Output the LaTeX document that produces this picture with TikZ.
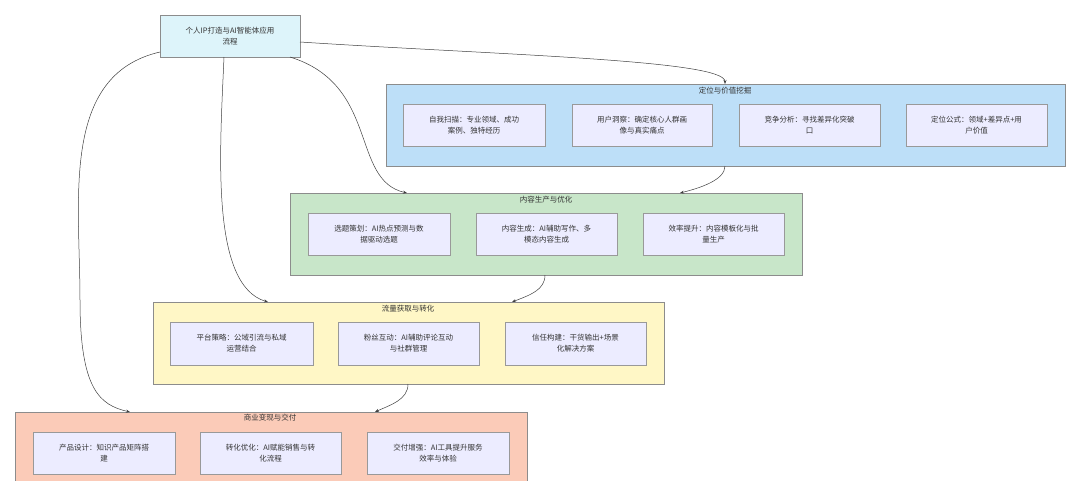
\documentclass[tikz,border=0pt]{standalone}
\usepackage{fontspec}
\setmainfont{Noto Sans CJK SC}
\usetikzlibrary{arrows.meta}
\begin{document}
\begin{tikzpicture}[x=1pt,y=-1pt,
  every node/.style={font=\fontsize{7.5}{11}\selectfont, text=black!80},
  clus/.style={draw=black!45, line width=0.5pt},
  item/.style={draw=black!40, fill=inner, line width=0.5pt},
  conn/.style={draw=black!75, line width=0.5pt, -{Stealth[length=4pt,width=3pt]}}]
\definecolor{inner}{HTML}{ECECFF}
\definecolor{cblue}{HTML}{BDDFF8}
\definecolor{cgreen}{HTML}{C8E6C9}
\definecolor{cyellow}{HTML}{FFF7C6}
\definecolor{cred}{HTML}{FBCBB8}
\definecolor{ctop}{HTML}{DDF4FA}
\useasboundingbox (0,0) rectangle (1080,480);
\fill[white] (0,0) rectangle (1080,480);
% top node
\draw[clus, fill=ctop] (160,15) rectangle (300,57);
\node[align=center] (top) at (230,36) {个人IP打造与AI智能体应用\\流程};
\coordinate (topR) at (300,42);
\coordinate (topBR) at (290,57);
\coordinate (topB) at (224,57);
\coordinate (topL) at (160,52);
% cluster 1
\draw[clus, fill=cblue] (386,84) rectangle (1065,166);
\node (t1) at (725,91) {定位与价值挖掘};
\coordinate (c1T) at (725,84); \coordinate (c1B) at (725,166);
\foreach \a/\b/\t [count=\i] in {403/545/{自我扫描：专业领域、成功\\案例、独特经历},572/712/{用户洞察：确定核心人群画\\像与真实痛点},739/880/{竞争分析：寻找差异化突破\\口},906/1047/{定位公式：领域+差异点+用\\户价值}}{
  \draw[item] (\a,104) rectangle (\b,146);
  \node[align=center] (a\i) at ({(\a+\b)/2},125) {\t};}
% cluster 2
\draw[clus, fill=cgreen] (290,193) rectangle (802,275);
\node (t2) at (546,200) {内容生产与优化};
\coordinate (c2L) at (407,193); \coordinate (c2R) at (680,193); \coordinate (c2B) at (545,275);
\foreach \a/\b/\t [count=\i] in {308/450/{选题策划：AI热点预测与数\\据驱动选题},476/617/{内容生成：AI辅助写作、多\\模态内容生成},643/784/{效率提升：内容模板化与批\\量生产}}{
  \draw[item] (\a,213) rectangle (\b,255);
  \node[align=center] (b\i) at ({(\a+\b)/2},234) {\t};}
% cluster 3
\draw[clus, fill=cyellow] (153,302) rectangle (664,384);
\node (t3) at (408,309) {流量获取与转化};
\coordinate (c3L) at (268,302); \coordinate (c3R) at (512,302); \coordinate (c3B) at (408,384);
\foreach \a/\b/\t [count=\i] in {170/313/{平台策略：公域引流与私域\\运营结合},338/479/{粉丝互动：AI辅助评论互动\\与社群管理},505/646/{信任构建：干货输出+场景\\化解决方案}}{
  \draw[item] (\a,322) rectangle (\b,365);
  \node[align=center] (d\i) at ({(\a+\b)/2},343) {\t};}
% cluster 4
\draw[clus, fill=cred] (15,412) rectangle (527,490);
\node (t4) at (270,418) {商业变现与交付};
\coordinate (c4L) at (130,412); \coordinate (c4R) at (375,412);
\foreach \a/\b/\t [count=\i] in {33/175/{产品设计：知识产品矩阵搭\\建},200/341/{转化优化：AI赋能销售与转\\化流程},367/509/{交付增强：AI工具提升服务\\效率与体验}}{
  \draw[item] (\a,432) rectangle (\b,474);
  \node[align=center] (e\i) at ({(\a+\b)/2},453) {\t};}
% connectors
\draw[conn] (topR) .. controls (500,55) and (725,60) .. (c1T);
\draw[conn] (topBR) .. controls (380,85) and (350,180) .. (c2L);
\draw[conn] (c1B) .. controls (725,180) and (700,188) .. (c2R);
\draw[conn] (topB) .. controls (220,150) and (210,285) .. (c3L);
\draw[conn] (c2B) .. controls (545,290) and (530,295) .. (c3R);
\draw[conn] (topL) .. controls (60,75) and (80,200) .. (80,300) .. controls (80,390) and (100,405) .. (c4L);
\draw[conn] (c3B) .. controls (408,400) and (390,405) .. (c4R);
\end{tikzpicture}
\end{document}
